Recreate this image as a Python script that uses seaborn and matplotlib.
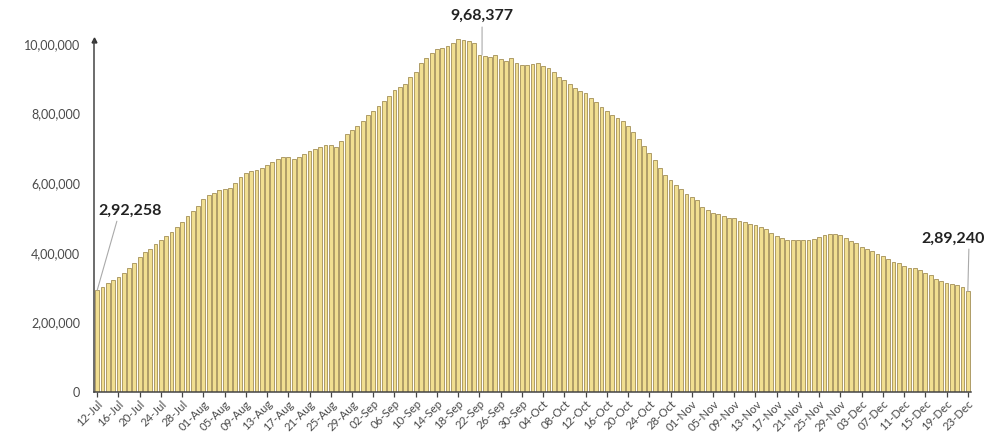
import matplotlib
matplotlib.use("Agg")
import matplotlib.pyplot as plt
import seaborn as sns
import pandas as pd
import numpy as np

# daily active cases, 12-Jul to 23-Dec
dates = pd.date_range("2020-07-12", "2020-12-23", freq="D").strftime("%d-%b").tolist()
active = [
    292258, 302000, 313000, 322000, 331000, 342000, 356000, 372000, 388000, 401000,
    411000, 424000, 437000, 448000, 461000, 474000, 489000, 506000, 520000, 535000,
    555000, 565000, 573000, 580000, 582000, 587000, 600000, 618000, 628000, 634000,
    638000, 644000, 653000, 660000, 668000, 675000, 674000, 670000, 674000, 684000,
    692000, 698000, 704000, 709000, 711000, 705000, 722000, 740000, 752000, 765000,
    780000, 795000, 808000, 822000, 836000, 850000, 869000, 876000, 886000, 905000,
    920000, 944000, 960000, 975000, 985000, 988000, 995000, 1003000, 1014000, 1011000,
    1008000, 1002000, 968377, 966000, 962000, 968000, 957000, 951000, 959000, 946000,
    940000, 939000, 941000, 945000, 938000, 932000, 918000, 906000, 897000, 886000,
    874000, 866000, 858000, 846000, 832000, 820000, 808000, 797000, 788000, 778000,
    765000, 748000, 728000, 708000, 688000, 666000, 643000, 624000, 608000, 594000,
    582000, 570000, 561000, 553000, 532000, 522000, 515000, 510000, 506000, 501000,
    499000, 492000, 487000, 484000, 479000, 474000, 468000, 458000, 449000, 441000,
    438000, 438000, 438000, 437000, 438000, 440000, 446000, 451000, 453000, 453000,
    452000, 443000, 434000, 427000, 417000, 412000, 404000, 396000, 390000, 383000,
    374000, 370000, 362000, 357000, 356000, 350000, 343000, 335000, 326000, 320000,
    314000, 311000, 307000, 303000, 289240,
]
y_ticks = [0, 200000, 400000, 600000, 800000, 1000000]
callouts = {"12-Jul": 292258, "22-Sep": 968377, "23-Dec": 289240}


def indian_format(n):
    s = str(int(n))
    if len(s) <= 3:
        return s
    head, tail = s[:-3], s[-3:]
    parts = []
    while len(head) > 2:
        parts.insert(0, head[-2:])
        head = head[:-2]
    if head:
        parts.insert(0, head)
    return ",".join(parts + [tail])


sns.set_style("white")
plt.rcParams["font.family"] = ["Lato", "DejaVu Sans"]

df = pd.DataFrame({"date": dates, "active": active})

fig = plt.figure(figsize=(9.86, 4.45), dpi=100)
ax = fig.add_axes([94 / 986, 53 / 445, 877 / 986, 362 / 445])

sns.barplot(data=df, x="date", y="active", color="#F1DF91", edgecolor="#AE9C66",
            linewidth=0.7, width=0.72, saturation=1, ax=ax)

ax.set_xlim(-0.6, len(dates) - 0.4)
ax.set_ylim(0, 1040000)
ax.set_xlabel("")
ax.set_ylabel("")

tick_pos = list(range(0, len(dates), 4))
ax.set_xticks(tick_pos)
ax.set_xticklabels([dates[i] for i in tick_pos], rotation=45, ha="right",
                   rotation_mode="anchor", fontsize=8.2, color="#4a4a4a")
ax.tick_params(axis="x", length=3.5, width=0.9, color="#444444", direction="out",
               bottom=True, pad=1)
ax.set_yticks(y_ticks)
ax.set_yticklabels([indian_format(v) for v in y_ticks], fontsize=9, color="#4a4a4a")
ax.tick_params(axis="y", length=0, pad=10)

for side in ["top", "right"]:
    ax.spines[side].set_visible(False)
ax.spines["left"].set_color("#444444")
ax.spines["bottom"].set_color("#444444")
ax.spines["left"].set_linewidth(1.1)
ax.spines["bottom"].set_linewidth(1.1)
ax.spines["left"].set_bounds(0, 1012000)
ax.plot([-0.6], [1012000], marker="^", color="#333333", markersize=3.5,
        clip_on=False, transform=ax.transData)

# callout labels
i0 = dates.index("12-Jul")
ax.annotate(indian_format(callouts["12-Jul"]), xy=(i0, callouts["12-Jul"]),
            xytext=(i0 + 0.3, 500000), textcoords="data", fontsize=11.5,
            fontweight="bold", color="#222222", ha="left", va="bottom",
            arrowprops=dict(arrowstyle="-", color="#aaaaaa", lw=0.8,
                            shrinkA=0, shrinkB=0, relpos=(0.3, 0)))
i1 = dates.index("22-Sep")
ax.annotate(indian_format(callouts["22-Sep"]), xy=(i1 + 0.5, callouts["22-Sep"]),
            xytext=(i1 + 0.5, 1062000), textcoords="data", fontsize=11.5,
            fontweight="bold", color="#222222", ha="center", va="bottom",
            annotation_clip=False,
            arrowprops=dict(arrowstyle="-", color="#aaaaaa", lw=0.8,
                            shrinkA=1, shrinkB=0))
i2 = dates.index("23-Dec")
ax.annotate(indian_format(callouts["23-Dec"]), xy=(i2, callouts["23-Dec"]),
            xytext=(i2 + 3.2, 420000), textcoords="data", fontsize=11.5,
            fontweight="bold", color="#222222", ha="right", va="bottom",
            annotation_clip=False,
            arrowprops=dict(arrowstyle="-", color="#aaaaaa", lw=0.8,
                            shrinkA=0, shrinkB=0, relpos=(0.75, 0)))

fig.savefig("out.png", dpi=100)
